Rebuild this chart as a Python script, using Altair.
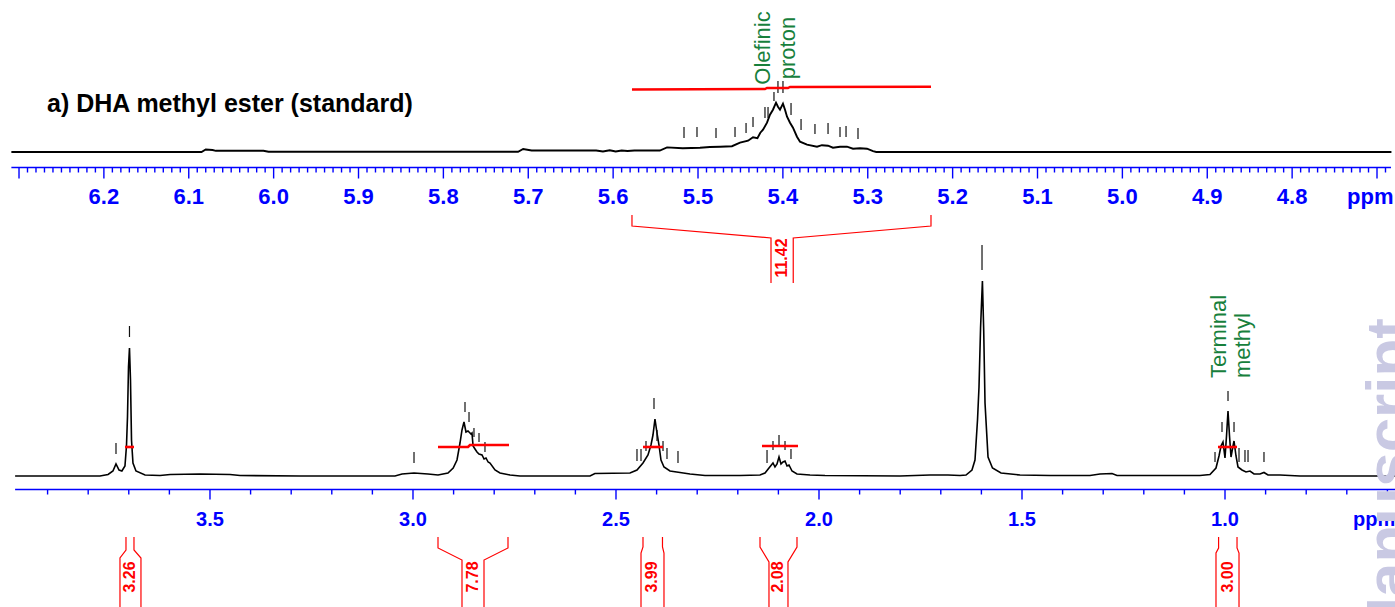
import altair as alt
import pandas as pd

W, H = 1395, 607
FONT = "Liberation Sans"
BLUE = "#0000ff"
RED = "#ff0000"
GREEN = "#17803c"
WATERMARK = "#c9c9e3"

# ---------------- scale domains (ppm axes reversed as in NMR) ----------------
TOP_PPM_RANGE = [4.6788, 6.3224]
BOT_PPM_RANGE = [0.5813, 4.0172]
TOP_INT_RANGE = [-455, 152]
BOT_INT_RANGE = [-131, 476]

# ---------------- top panel: DHA methyl ester, olefinic region ----------------
TOP_PPM = [6.309, 6.085, 6.080, 6.072, 6.068, 6.012, 6.006, 5.712, 5.706, 5.696,
           5.620, 5.612, 5.604, 5.597, 5.590, 5.583, 5.575, 5.545, 5.5365, 5.518,
           5.4976, 5.486, 5.474, 5.460, 5.4505, 5.441, 5.4352, 5.430, 5.4266, 5.4234,
           5.4187, 5.4152, 5.4117, 5.4081, 5.4058, 5.4034, 5.3999, 5.3975, 5.3951, 5.3916,
           5.3881, 5.3834, 5.3798, 5.3716, 5.3598, 5.354, 5.3468, 5.341, 5.3327, 5.3245,
           5.3174, 5.3091, 5.3009, 5.2938, 5.290, 4.683]
TOP_INT = [0, 0, 2.5, 2.0, 1.2, 1.2, 0.2, 0.2, 3.0, 1.5,
           1.5, 0.5, 1.8, 0.5, 1.5, 1.0, 1.5, 1.5, 4.6, 3.8,
           4.3, 5.0, 5.3, 5.8, 9.3, 11.3, 14.8, 13.8, 19.3, 22.3,
           29.3, 37.3, 42.3, 49.3, 45.3, 42.3, 48.3, 42.3, 35.3, 29.3,
           24.3, 15.3, 10.3, 7.3, 5.3, 6.8, 6.3, 4.3, 5.3, 5.3,
           3.3, 3.8, 3.3, 0.8, 0, 0]

TOP_PK_PPM = [5.5165, 5.5012, 5.4788, 5.4564, 5.4434, 5.4352, 5.4211, 5.4175, 5.4105,
              5.4058, 5.3999, 5.3904, 5.3786, 5.3622, 5.3468, 5.3327, 5.3256, 5.3115]
TOP_PK_HI = [25, 25, 24, 25, 29, 35, 45, 45, 60, 71, 71, 49, 33, 28, 29, 25, 26, 24]
TOP_PK_LO = [14, 15, 14, 15, 19, 25, 34, 34, 51, 59, 59, 37, 22, 18, 18, 15, 15, 13]

TOP_INTEG_PPM = [5.5778, 5.4211, 5.4187, 5.3940, 5.3916, 5.2255]
TOP_INTEG_VAL = [62.5, 63, 64, 64, 65, 65.3]

TOP_MAJOR = [6.2, 6.1, 6.0, 5.9, 5.8, 5.7, 5.6, 5.5, 5.4, 5.3, 5.2, 5.1, 5.0, 4.9, 4.8]
TOP_LABELS = ["6.2", "6.1", "6.0", "5.9", "5.8", "5.7", "5.6", "5.5", "5.4", "5.3",
              "5.2", "5.1", "5.0", "4.9", "4.8"]

TOP_BRACKET = {"label": "11.42", "top_l": 5.5778, "top_r": 5.2255,
               "col_l": 5.414, "col_r": 5.3878}

# ---------------- bottom panel: aliphatic region ----------------
BOT_PPM = [3.980, 3.771, 3.751, 3.739, 3.7315, 3.724, 3.717, 3.7094, 3.7057, 3.7032,
           3.7007, 3.6983, 3.6958, 3.6933, 3.6897, 3.6823, 3.660, 3.623, 3.598, 3.5246,
           3.4507, 3.426, 3.278, 3.0443, 3.027, 2.9975, 2.963, 2.9384, 2.9138, 2.901,
           2.8916, 2.8842, 2.8793, 2.8744, 2.8695, 2.8645, 2.862, 2.857, 2.8547, 2.852,
           2.8473, 2.8424, 2.8375, 2.830, 2.825, 2.8202, 2.815, 2.8103, 2.798, 2.7857,
           2.761, 2.7365, 2.564, 2.552, 2.4655, 2.4483, 2.4335, 2.4212, 2.4138, 2.4089,
           2.404, 2.399, 2.3941, 2.3892, 2.3818, 2.367, 2.3424, 2.3177, 2.2808, 2.1946,
           2.1453, 2.133, 2.1232, 2.1133, 2.1084, 2.1034, 2.0985, 2.0936, 2.0887, 2.0837,
           2.0788, 2.0739, 2.0665, 2.0542, 2.0222, 1.9852, 1.8005, 1.7266, 1.6823, 1.6527,
           1.6379, 1.6232, 1.6158, 1.6096, 1.6059, 1.602, 1.5975, 1.5943, 1.5911, 1.5837,
           1.5727, 1.5517, 1.5049, 1.431, 1.3325, 1.3079, 1.2783, 1.266, 1.0616, 1.037,
           1.0222, 1.0148, 1.0099, 1.005, 1.0, 0.9963, 0.9926, 0.9889, 0.9852, 0.9803,
           0.9778, 0.9729, 0.968, 0.9581, 0.9483, 0.9384, 0.9286, 0.9138, 0.904, 0.8941,
           0.8645, 0.8153, 0.5813]
BOT_INT = [0, 0, 1.5, 5, 12, 6, 5, 10, 30, 59,
           109, 128, 96, 36, 13, 5, 1, 0.5, 1.5, 2,
           1.5, 0.5, 0, 0, 2, 3, 2, 1, 3, 8,
           16, 33, 46, 54, 44, 45, 44, 42, 43, 30,
           27, 24, 22, 21, 17, 18, 14, 13, 6, 3,
           1, 0, 0, 2.5, 3, 6, 13, 21, 31, 41,
           57, 43, 31, 16, 9, 5, 3.5, 2, 0.5, 0.5,
           1, 3, 8, 13, 9, 12, 19, 12, 14, 15,
           10, 11, 5, 2, 1, 0.5, 0, 1, 1, 0.5,
           1, 6, 16, 56, 89, 149, 195, 145, 73, 19,
           8, 3, 1, 0.5, 0.5, 2, 2.5, 0.5, 0.5, 1.5,
           8, 20, 30, 34, 18, 40, 65, 40, 19, 30,
           35, 20, 9, 6, 4, 5, 2, 2, 3.5, 1,
           1, 0, 0]

BOT_PK_PPM = [3.7315, 3.6983, 2.9975, 2.8719, 2.862, 2.8498, 2.8374, 2.8227, 2.4483, 2.4384,
              2.4261, 2.4064, 2.399, 2.3842, 2.3744, 2.3473, 2.128, 2.1133, 2.0985, 2.0837,
              2.069, 1.5985, 1.0246, 1.0074, 0.9926, 0.9778, 0.9655, 0.9508, 0.9433, 0.904]
BOT_PK_HI = [33, 150, 24, 74, 64, 48, 43, 34, 27, 27, 35, 78, 46, 35, 28, 25, 26, 35, 41, 35,
             27, 231, 24, 54, 85, 54, 28, 26, 26, 24]
BOT_PK_LO = [22, 139, 13, 64, 54, 39, 34, 24, 15, 15, 25, 67, 35, 25, 17, 13, 13, 26, 31, 26,
             17, 206, 14, 44, 75, 44, 14, 14, 14, 14]

BOT_INTEG_GROUP = [0, 0, 1, 1, 1, 1, 2, 2, 3, 3, 4, 4]
BOT_INTEG_PPM = [3.7094, 3.6872, 2.9384, 2.8645, 2.8596, 2.7635, 2.4335, 2.3842,
                 2.1404, 2.0517, 1.0172, 0.9704]
BOT_INTEG_VAL = [29, 29, 29, 29, 31, 31, 29, 29, 30, 30, 29, 29]

BOT_MAJOR = [3.5, 3.0, 2.5, 2.0, 1.5, 1.0]
BOT_LABELS = ["3.5", "3.0", "2.5", "2.0", "1.5", "1.0"]

BR_LABELS = ["3.26", "7.78", "3.99", "2.08", "3.00"]
BR_TOP_L = [3.7069, 2.9384, 2.4335, 2.1453, 1.0158]
BR_TOP_R = [3.6872, 2.7660, 2.3855, 2.0542, 0.9704]
BR_COL_L = [3.7217, 2.8793, 2.4384, 2.1232, 1.0222]
BR_COL_R = [3.6700, 2.8251, 2.3818, 2.0764, 0.9655]
BR_BEND1 = [-74, -72, -71, -71, -72]
BR_BEND2 = [-82, -84, -77, -86, -77]

TITLE = "a) DHA methyl ester (standard)"
TOP_NOTES = ["Olefinic", "proton"]
TOP_NOTES_PPM = [5.4152, 5.3857]
BOT_NOTES = ["Terminal", "methyl"]
BOT_NOTES_PPM = [0.9975, 0.9384]


# ---------------- helpers ----------------
def xs(panel, field="ppm"):
    dom = TOP_PPM_RANGE if panel == "top" else BOT_PPM_RANGE
    return alt.X(f"{field}:Q", scale=alt.Scale(domain=dom, reverse=True, nice=False, zero=False),
                 axis=None)


def ys(panel, field="v"):
    dom = TOP_INT_RANGE if panel == "top" else BOT_INT_RANGE
    return alt.Y(f"{field}:Q", scale=alt.Scale(domain=dom, nice=False, zero=False), axis=None)


def axis_layers(panel, major, labels, line_from, line_to, line_v, minor_step, minor_len,
                major_len, label_v, label_size, ppm_x, ppm_v):
    layers = []
    line_df = pd.DataFrame({"ppm": [line_from], "ppm2": [line_to], "v": [line_v]})
    layers.append(alt.Chart(line_df).mark_rule(color=BLUE, strokeWidth=1.6).encode(
        x=xs(panel), x2=alt.X2("ppm2:Q"), y=ys(panel)))
    lo, hi = min(line_from, line_to), max(line_from, line_to)
    n = int(round((hi - lo) / minor_step)) + 2
    start = round(int(hi / minor_step) * minor_step, 2)
    ticks = []
    for k in range(n):
        p = round(start - k * minor_step, 2)
        if p < lo:
            break
        if minor_step < 0.05:
            is_major = abs(round(p * 10) - p * 10) < 1e-6
        else:
            is_major = abs(round(p * 2) - p * 2) < 1e-6
        ticks.append({"ppm": p, "v": line_v, "v2": line_v - (major_len if is_major else minor_len)})
    layers.append(alt.Chart(pd.DataFrame(ticks)).mark_rule(color=BLUE, strokeWidth=1.4).encode(
        x=xs(panel), y=ys(panel), y2=alt.Y2("v2:Q")))
    lab_df = pd.DataFrame({"ppm": major, "v": [label_v] * len(major), "t": labels})
    layers.append(alt.Chart(lab_df).mark_text(
        align="center", baseline="alphabetic", font=FONT, fontSize=label_size,
        fontWeight="bold", color=BLUE).encode(x=xs(panel), y=ys(panel), text="t:N"))
    ppm_df = pd.DataFrame({"ppm": [ppm_x], "v": [ppm_v], "t": ["ppm"]})
    layers.append(alt.Chart(ppm_df).mark_text(
        align="left", baseline="alphabetic", font=FONT, fontSize=label_size,
        fontWeight="bold", color=BLUE).encode(x=xs(panel), y=ys(panel), text="t:N"))
    return layers


def bracket_rows(key, top_l, top_r, col_l, col_r, top_v, b1, b2, bottom_v):
    rows = []
    for side, (tp, cp) in {"L": (top_l, col_l), "R": (top_r, col_r)}.items():
        pts = [(tp, top_v), (tp, b1), (cp, b2), (cp, bottom_v)]
        for i, (p, v) in enumerate(pts):
            rows.append({"key": f"{key}{side}", "i": i, "ppm": p, "v": v})
    return rows


layers = []

# ---------------- top panel ----------------
top_df = pd.DataFrame({"ppm": TOP_PPM, "v": TOP_INT, "i": list(range(len(TOP_PPM)))})
layers.append(alt.Chart(top_df).mark_line(color="black", strokeWidth=1.9).encode(
    x=xs("top"), y=ys("top"), order="i:Q"))

tpk = pd.DataFrame({"ppm": TOP_PK_PPM, "v": TOP_PK_HI, "v2": TOP_PK_LO})
layers.append(alt.Chart(tpk).mark_rule(color="#111111", strokeWidth=1.2).encode(
    x=xs("top"), y=ys("top"), y2=alt.Y2("v2:Q")))

tint = pd.DataFrame({"ppm": TOP_INTEG_PPM, "v": TOP_INTEG_VAL, "i": list(range(len(TOP_INTEG_PPM)))})
layers.append(alt.Chart(tint).mark_line(color=RED, strokeWidth=2.4).encode(
    x=xs("top"), y=ys("top"), order="i:Q"))

layers += axis_layers("top", TOP_MAJOR, TOP_LABELS, 6.309, 4.6835, -15.5, 0.01, 5, 11,
                      -52, 22, 4.7353, -52)

tb = TOP_BRACKET
tb_df = pd.DataFrame(bracket_rows("top", tb["top_l"], tb["top_r"], tb["col_l"], tb["col_r"],
                                  -63, -74, -86, -131))
layers.append(alt.Chart(tb_df).mark_line(color=RED, strokeWidth=1.2).encode(
    x=xs("top"), y=ys("top"), detail="key:N", order="i:Q"))
tbl = pd.DataFrame({"ppm": [(tb["col_l"] + tb["col_r"]) / 2], "v": [-106], "t": [tb["label"]]})
layers.append(alt.Chart(tbl).mark_text(
    angle=270, align="center", baseline="middle", font=FONT, fontSize=16,
    fontWeight="bold", color=RED).encode(x=xs("top"), y=ys("top"), text="t:N"))

title_df = pd.DataFrame({"ppm": [6.267], "v": [40], "t": [TITLE]})
layers.append(alt.Chart(title_df).mark_text(
    align="left", baseline="alphabetic", font=FONT, fontSize=25, fontWeight="bold",
    color="black").encode(x=xs("top"), y=ys("top"), text="t:N"))

tn = pd.DataFrame({"ppm": TOP_NOTES_PPM, "v": [104, 104], "t": TOP_NOTES})
layers.append(alt.Chart(tn).mark_text(
    angle=270, align="center", baseline="alphabetic", font=FONT, fontSize=22,
    color=GREEN).encode(x=xs("top"), y=ys("top"), text="t:N"))

# ---------------- bottom panel ----------------
bot_df = pd.DataFrame({"ppm": BOT_PPM, "v": BOT_INT, "i": list(range(len(BOT_PPM)))})
layers.append(alt.Chart(bot_df).mark_line(color="black", strokeWidth=1.6).encode(
    x=xs("bot"), y=ys("bot"), order="i:Q"))

bpk = pd.DataFrame({"ppm": BOT_PK_PPM, "v": BOT_PK_HI, "v2": BOT_PK_LO})
layers.append(alt.Chart(bpk).mark_rule(color="#111111", strokeWidth=1.2).encode(
    x=xs("bot"), y=ys("bot"), y2=alt.Y2("v2:Q")))

bint = pd.DataFrame({"g": BOT_INTEG_GROUP, "ppm": BOT_INTEG_PPM, "v": BOT_INTEG_VAL,
                     "i": list(range(len(BOT_INTEG_PPM)))})
layers.append(alt.Chart(bint).mark_line(color=RED, strokeWidth=2.6).encode(
    x=xs("bot"), y=ys("bot"), detail="g:N", order="i:Q"))

layers += axis_layers("bot", BOT_MAJOR, BOT_LABELS, 3.98, 0.5813, -13.5, 0.1, 5, 10,
                      -50, 20, 0.6847, -50)

brows = []
for k in range(len(BR_LABELS)):
    brows += bracket_rows(f"b{k}", BR_TOP_L[k], BR_TOP_R[k], BR_COL_L[k], BR_COL_R[k],
                          -61, BR_BEND1[k], BR_BEND2[k], -135)
layers.append(alt.Chart(pd.DataFrame(brows)).mark_line(color=RED, strokeWidth=1.2).encode(
    x=xs("bot"), y=ys("bot"), detail="key:N", order="i:Q"))
bl = pd.DataFrame({"ppm": [(a + b) / 2 for a, b in zip(BR_COL_L, BR_COL_R)],
                   "v": [-101] * len(BR_LABELS), "t": BR_LABELS})
layers.append(alt.Chart(bl).mark_text(
    angle=270, align="center", baseline="middle", font=FONT, fontSize=16,
    fontWeight="bold", color=RED).encode(x=xs("bot"), y=ys("bot"), text="t:N"))

bn = pd.DataFrame({"ppm": BOT_NOTES_PPM, "v": [98, 98], "t": BOT_NOTES})
layers.append(alt.Chart(bn).mark_text(
    angle=270, align="left", baseline="alphabetic", font=FONT, fontSize=22,
    color=GREEN).encode(x=xs("bot"), y=ys("bot"), text="t:N"))

# watermark along the right edge (only its upper part lies inside the picture)
wm = pd.DataFrame({"ppm": [0.546], "v": [158], "t": ["Accepted Manuscript"]})
layers.append(alt.Chart(wm).mark_text(
    angle=270, align="right", baseline="alphabetic", font=FONT, fontSize=62,
    fontWeight="bold", color=WATERMARK).encode(x=xs("bot"), y=ys("bot"), text="t:N"))

chart = alt.layer(*layers).resolve_scale(
    x="independent", y="independent"
).properties(
    width=W, height=H, padding=0, autosize="none", background="white"
).configure_view(strokeWidth=0)

chart.save("out.html", embed_options={"renderer": "svg", "actions": False})
